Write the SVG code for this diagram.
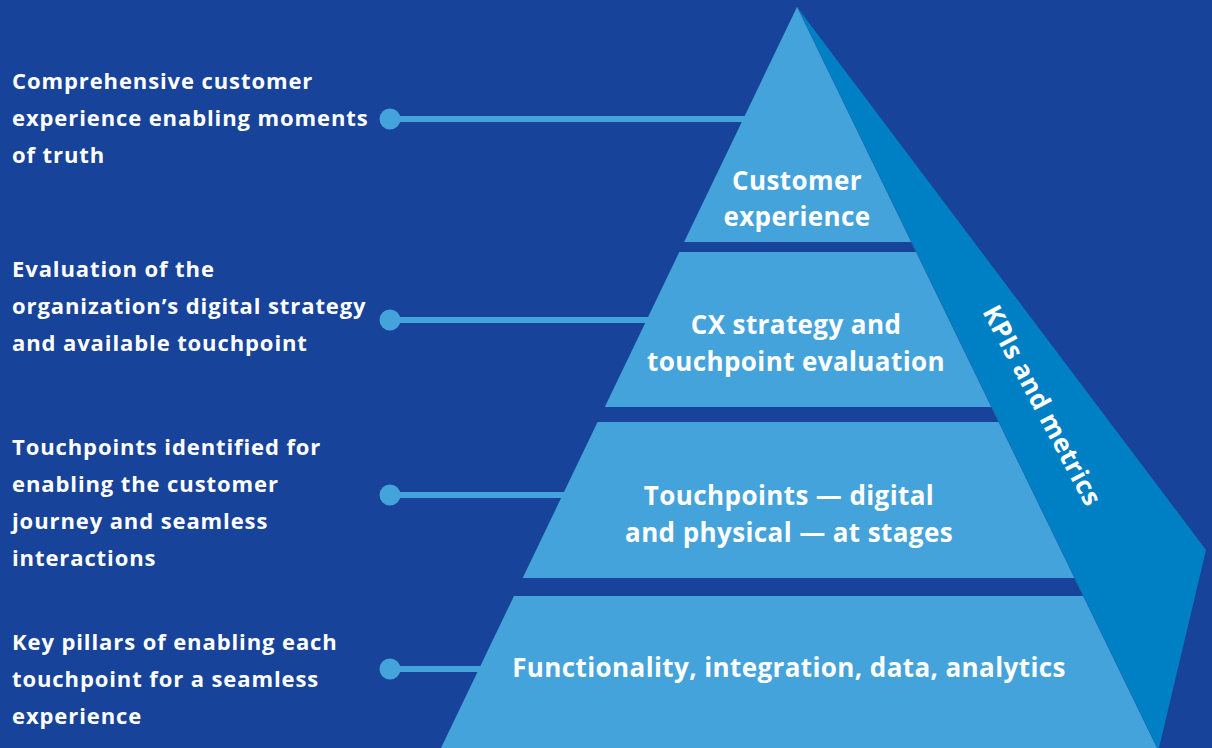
<svg xmlns="http://www.w3.org/2000/svg" width="1212" height="748" viewBox="0 0 1212 748">
<style>
.lbl{font-family:"Open Sans","Noto Sans",sans-serif;font-weight:700;font-size:22px;letter-spacing:0.9px;fill:#ffffff}
.tier{fill:#45A3DB}
.ttxt{font-family:"Open Sans","Noto Sans",sans-serif;font-weight:700;font-size:26px;letter-spacing:0.4px;fill:#ffffff;text-anchor:middle}
.conn{stroke:#45A3DB;stroke-width:6;fill:none}
.dot{fill:#45A3DB}
</style>
<rect x="0" y="0" width="1212" height="748" fill="#17439A"/>
<g id="connectors">
  <line class="conn" x1="390" y1="119" x2="770" y2="119"/>
  <circle class="dot" cx="390" cy="119" r="10.5"/>
  <line class="conn" x1="390" y1="320" x2="670" y2="320"/>
  <circle class="dot" cx="390" cy="320" r="10.5"/>
  <line class="conn" x1="390" y1="495" x2="590" y2="495"/>
  <circle class="dot" cx="390" cy="495" r="10.5"/>
  <line class="conn" x1="390" y1="669" x2="505" y2="669"/>
  <circle class="dot" cx="390" cy="669" r="10.5"/>
</g>
<g id="side-kpis">
  <polygon points="797,7 1206,550 1159,748 1157,748" fill="#0080C4"/>
  <line x1="797" y1="7" x2="1157" y2="748" stroke="#1D5FA6" stroke-width="1"/>
  <text class="ttxt" x="0" y="0" transform="translate(1043,405) rotate(62)" dominant-baseline="central">KPIs and metrics</text>
</g>
<g id="tier-1">
  <polygon class="tier" points="797,7 911.2,242 684.1,242"/>
  <text class="ttxt" x="797" y="190">Customer</text>
  <text class="ttxt" x="797" y="226">experience</text>
</g>
<g id="tier-2">
  <polygon class="tier" points="679.3,252 916,252 991.3,407 604.8,407"/>
  <text class="ttxt" x="796" y="334">CX strategy and</text>
  <text class="ttxt" x="796" y="371">touchpoint evaluation</text>
</g>
<g id="tier-3">
  <polygon class="tier" points="597.6,422 998.6,422 1074.4,578 522.7,578"/>
  <text class="ttxt" x="789" y="505">Touchpoints — digital</text>
  <text class="ttxt" x="789" y="542">and physical — at stages</text>
</g>
<g id="tier-4">
  <polygon class="tier" points="514,596 1083.1,596 1157,748 441,748"/>
  <text class="ttxt" x="789" y="677">Functionality, integration, data, analytics</text>
</g>
<g id="label-1">
  <text class="lbl" x="12" y="89">Comprehensive customer</text>
  <text class="lbl" x="12" y="126">experience enabling moments</text>
  <text class="lbl" x="12" y="163">of truth</text>
</g>
<g id="label-2">
  <text class="lbl" x="12" y="277">Evaluation of the</text>
  <text class="lbl" x="12" y="314">organization’s digital strategy</text>
  <text class="lbl" x="12" y="351">and available touchpoint</text>
</g>
<g id="label-3">
  <text class="lbl" x="12" y="455">Touchpoints identified for</text>
  <text class="lbl" x="12" y="492">enabling the customer</text>
  <text class="lbl" x="12" y="529">journey and seamless</text>
  <text class="lbl" x="12" y="566">interactions</text>
</g>
<g id="label-4">
  <text class="lbl" x="12" y="650">Key pillars of enabling each</text>
  <text class="lbl" x="12" y="687">touchpoint for a seamless</text>
  <text class="lbl" x="12" y="724">experience</text>
</g>
</svg>
